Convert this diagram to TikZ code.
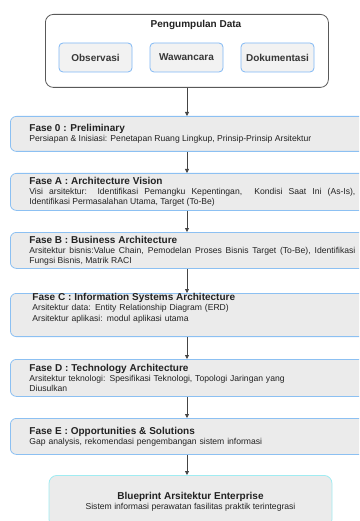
\documentclass[tikz,border=0pt]{standalone}
\usepackage{fontspec}
\setmainfont{Liberation Sans}
\usetikzlibrary{arrows.meta}
\definecolor{phasefill}{HTML}{EBEBEB}
\definecolor{phaseline}{HTML}{8CC0F2}
\definecolor{subfill}{HTML}{F2F2F2}
\definecolor{subline}{HTML}{80B8F5}
\definecolor{bpline}{HTML}{A0ECF2}
\definecolor{txt}{HTML}{222222}
\definecolor{arr}{HTML}{444444}
\tikzset{
  x=1pt, y=-1pt,
  phase/.style={draw=phaseline, line width=0.8pt, fill=phasefill, rounded corners=6pt,
    anchor=north west, inner xsep=19pt, inner ysep=0pt, text width=326pt, align=justify,
    font=\fontsize{8.6}{10}\selectfont, text=txt},
  subbox/.style={draw=subline, line width=0.8pt, fill=subfill, rounded corners=4pt,
    minimum width=73pt, minimum height=29pt, inner sep=0pt,
    font=\fontsize{10}{12}\selectfont\bfseries, text=txt!90},
  conn/.style={draw=arr, line width=0.8pt, -{Triangle[width=4pt,length=4pt]}},
}
\newcommand{\ttl}[1]{{\fontsize{10}{11}\selectfont\bfseries #1\par}}
\begin{document}
\begin{tikzpicture}
\useasboundingbox (0,0) rectangle (359,521);
\clip (0,0) rectangle (359,521);
% top container
\node[draw=black!65, line width=0.8pt, fill=white, rounded corners=8pt, anchor=north west,
  minimum width=283pt, minimum height=73pt, inner sep=0pt] (cont) at (45,14) {};
\node[font=\fontsize{10}{12}\selectfont\bfseries, text=txt] (ctitle) at (196,25) {Pengumpulan Data};
\node[subbox] (obs) at (95.5,57.5) {Observasi};
\node[subbox] (waw) at (186.5,57.5) {Wawancara};
\node[subbox] (dok) at (277.5,57.5) {Dokumentasi};
% phases
\node[phase, minimum height=35pt] (f0) at (10,116) {\ttl{Fase 0 : Preliminary}Persiapan \& Inisiasi: Penetapan Ruang Lingkup, Prinsip-Prinsip Arsitektur};
\node[phase, minimum height=37pt] (fa) at (10,173) {\ttl{Fase A : Architecture Vision}Visi arsitektur: Identifikasi Pemangku Kepentingan,\ \ Kondisi Saat Ini (As-Is),\linebreak Identifikasi Permasalahan Utama, Target (To-Be)};
\node[phase, minimum height=36pt] (fb) at (10,232) {\ttl{Fase B : Business Architecture}Arsitektur bisnis:Value Chain, Pemodelan Proses Bisnis Target (To-Be), Identifikasi\linebreak Fungsi Bisnis, Matrik RACI};
\node[phase, minimum height=43pt, inner xsep=22pt, text width=320pt, align=left] (fc) at (10,293) {\ttl{Fase C : Information Systems Architecture}Arsitektur data: Entity Relationship Diagram (ERD)\\[1pt]Arsitektur aplikasi: modul aplikasi utama\\[5pt]\mbox{}};
\node[phase, minimum height=37pt, align=left] (fd) at (10,359) {\ttl{Fase D : Technology Architecture}Arsitektur teknologi: Spesifikasi Teknologi, Topologi Jaringan yang\\Diusulkan};
\node[phase, minimum height=36pt, align=left] (fe) at (10,418) {\ttl{Fase E : Opportunities \& Solutions}Gap analysis, rekomendasi pengembangan sistem informasi};
% blueprint
\node[draw=bpline, line width=0.8pt, fill=phasefill, rounded corners=8pt, anchor=north,
  minimum width=283pt, minimum height=52pt, inner sep=0pt, align=center,
  font=\fontsize{8.6}{10}\selectfont, text=txt] (bp) at (190.5,475)
  {{\fontsize{10}{11}\selectfont\bfseries Blueprint Arsitektur Enterprise}\\Sistem informasi perawatan fasilitas praktik terintegrasi};
% connectors
\coordinate (ax) at (187,0);
\draw[conn] (cont.south -| ax) -- (f0.north -| ax);
\draw[conn] (f0.south -| ax) -- (fa.north -| ax);
\draw[conn] (fa.south -| ax) -- (fb.north -| ax);
\draw[conn] (fb.south -| ax) -- (fc.north -| ax);
\draw[conn] (fc.south -| ax) -- (fd.north -| ax);
\draw[conn] (fd.south -| ax) -- (fe.north -| ax);
\draw[conn] (fe.south -| ax) -- (bp.north -| ax);
\end{tikzpicture}
\end{document}
